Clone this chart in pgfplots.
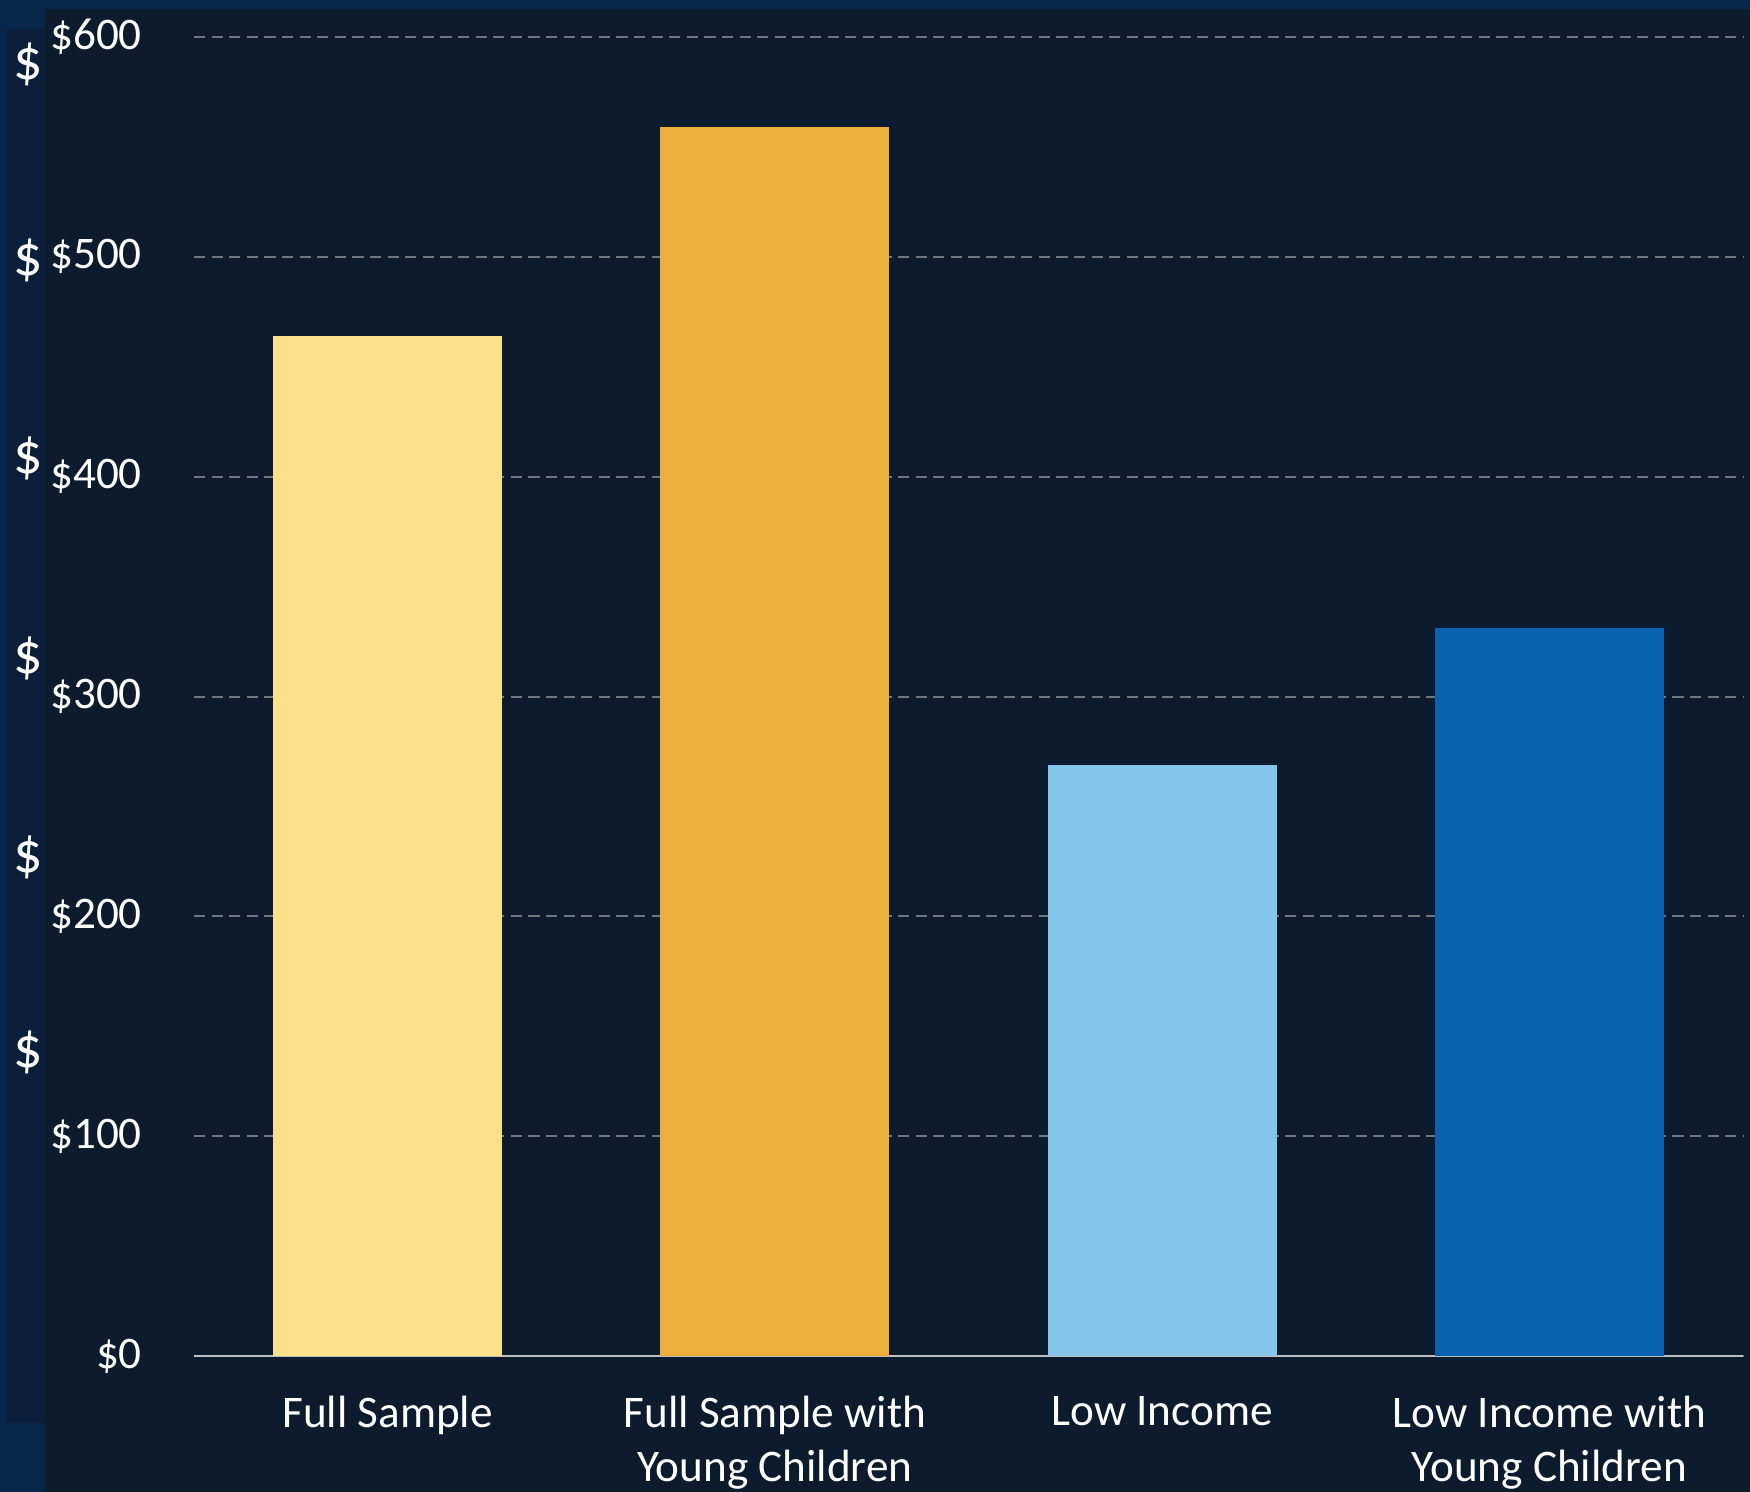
\documentclass[border=0pt]{standalone}
\usepackage{fontspec}
\setmainfont{Carlito}
\usepackage{pgfplots}
\pgfplotsset{compat=1.18}
\definecolor{outerbg}{HTML}{08264A}
\definecolor{midbg}{HTML}{0B1F3A}
\definecolor{mainbg}{HTML}{0D1B2E}
\definecolor{gridc}{HTML}{70767E}
\definecolor{axisc}{HTML}{C0C0C0}
\definecolor{cA}{HTML}{FAE08A}
\definecolor{cB}{HTML}{EDAE3B}
\definecolor{cC}{HTML}{86C6EC}
\definecolor{cD}{HTML}{0963B2}
\begin{document}
\begin{tikzpicture}
\useasboundingbox (0,0) rectangle (437.5pt,373pt);
\fill[outerbg] (0,0) rectangle (437.5pt,373pt);
\fill[midbg] (1.75pt,17.25pt) rectangle (11.25pt,365.75pt);
\begin{scope}
\clip (0,0) rectangle (11.25pt,373pt);
\foreach \yy in {357,308,258.5,208.5,158.75,110}{
  \node[text=white,font=\fontsize{14.5}{16}\selectfont,inner sep=0pt] at (7pt,\yy pt) {\$};
}
\end{scope}
\fill[mainbg] (11.25pt,0) rectangle (437.5pt,370.75pt);
\begin{axis}[
  at={(48.5pt,34pt)}, anchor=south west,
  scale only axis, width=387.25pt, height=329.75pt,
  xmin=-0.5, xmax=3.5, ymin=0, ymax=600,
  axis x line*=bottom, axis y line*=left,
  x axis line style={color=axisc, line width=0.6pt, -},
  y axis line style={draw=none},
  xtick={0,1,2,3},
  xticklabels={{Full Sample},{Full Sample with\\Young Children},{Low Income},{Low Income with\\Young Children}},
  x tick label style={align=center, font=\fontsize{11.3}{13.4}\selectfont, text=white, yshift=-6.5pt},
  major tick length=0pt,
  ytick={0,100,200,300,400,500,600},
  yticklabels={\$0,\$100,\$200,\$300,\$400,\$500,\$600},
  ymajorgrids,
  grid style={gridc, line width=0.5pt, dash pattern=on 2.8pt off 1.6pt},
  y tick label style={font=\fontsize{11.3}{13.4}\selectfont, text=white, xshift=-9.5pt},
  ybar, bar width=57.2pt, bar shift=0pt,
  clip=false,
]
\addplot[fill=cA, draw=none] coordinates {(0,464)};
\addplot[fill=cB, draw=none] coordinates {(1,559)};
\addplot[fill=cC, draw=none] coordinates {(2,269)};
\addplot[fill=cD, draw=none] coordinates {(3,331)};
\end{axis}
\end{tikzpicture}
\end{document}
